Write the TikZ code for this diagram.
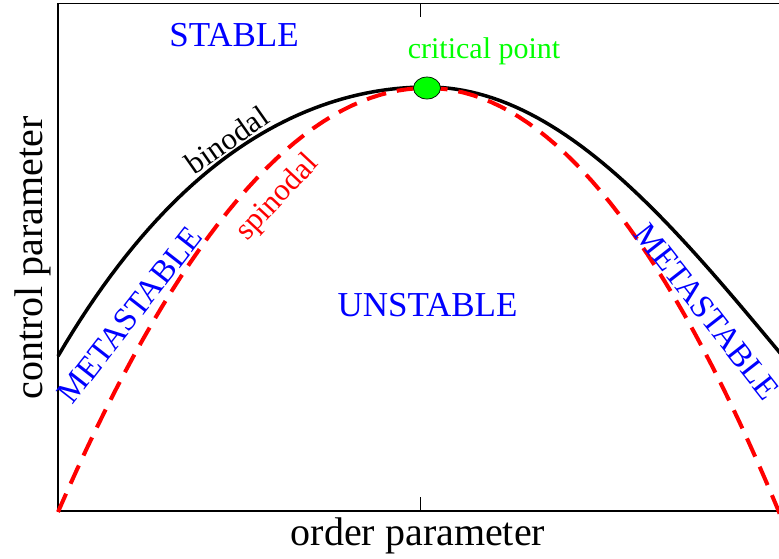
\documentclass[tikz,border=0pt]{standalone}
\usepackage{fontspec}
\setmainfont{Liberation Serif}
\usetikzlibrary{shapes.geometric}
\definecolor{regionblue}{RGB}{0,0,255}
\definecolor{critgreen}{RGB}{0,255,0}
\definecolor{spinred}{RGB}{255,0,0}

\begin{document}
\begin{tikzpicture}[x=1pt, y=-1pt,
  region/.style={text=regionblue, font=\fontsize{35}{40}\selectfont, anchor=base},
  meta/.style={text=regionblue, font=\fontsize{33}{38}\selectfont},
  curvelbl/.style={font=\fontsize{31}{36}\selectfont},
  axislbl/.style={font=\fontsize{40}{46}\selectfont, anchor=base},
  binodal/.style={line width=3.5pt, black},
  spinodal/.style={line width=4pt, spinred, dash pattern=on 20pt off 11pt},
  frame/.style={line width=1.2pt},
  crit/.style={ellipse, draw=black, line width=0.7pt, fill=critgreen,
    minimum width=27pt, minimum height=22pt, inner sep=0pt},
]
  \useasboundingbox (0,0) rectangle (779,558);
  \clip (0,0) rectangle (779,558);

  % axes box, open to the right
  \draw[frame] (800,3.5) -- (58,3.5) -- (58,511) -- (800,511);
  \draw[frame, line width=0.8pt] (420,3.5) -- (420,17);
  \draw[frame, line width=0.8pt] (420,511) -- (420,497);

  % coexistence curves
  \draw[binodal] plot[domain=58:427, samples=50]
      (\x,{87+16.39*((\x-427)/100)^2+0.248*((\x-427)/100)^4})
    -- plot[domain=427:785, samples=50]
      (\x,{87+25.7*((\x-427)/100)^2-0.35*((\x-427)/100)^4});
  \draw[spinodal] plot[domain=58:427, samples=40]
      (\x,{88+31.14*((\x-427)/100)^2})
    -- plot[domain=427:785, samples=40]
      (\x,{88+34.22*((\x-427)/100)^2});

  \node[crit] (critpt) at (427,88) {};

  \node[region] (stable) at (234,46.5) {STABLE};
  \node[region] (unstable) at (427.5,316) {UNSTABLE};
  \node[anchor=base, text=critgreen, font=\fontsize{30}{34}\selectfont]
    (critlbl) at (484,58) {critical point};
  \node[curvelbl, rotate=35] (binlbl) at (227,140) {binodal};
  \node[curvelbl, text=spinred, rotate=47] (spinlbl) at (278,198) {spinodal};
  \node[meta, rotate=52] (metaL) at (130,315) {METASTABLE};
  \node[meta, rotate=-52] (metaR) at (707,312) {METASTABLE};

  \node[axislbl] (xlbl) at (418,545) {order parameter};
  \node[axislbl, rotate=90] (ylbl) at (42,258) {control parameter};
\end{tikzpicture}
\end{document}
